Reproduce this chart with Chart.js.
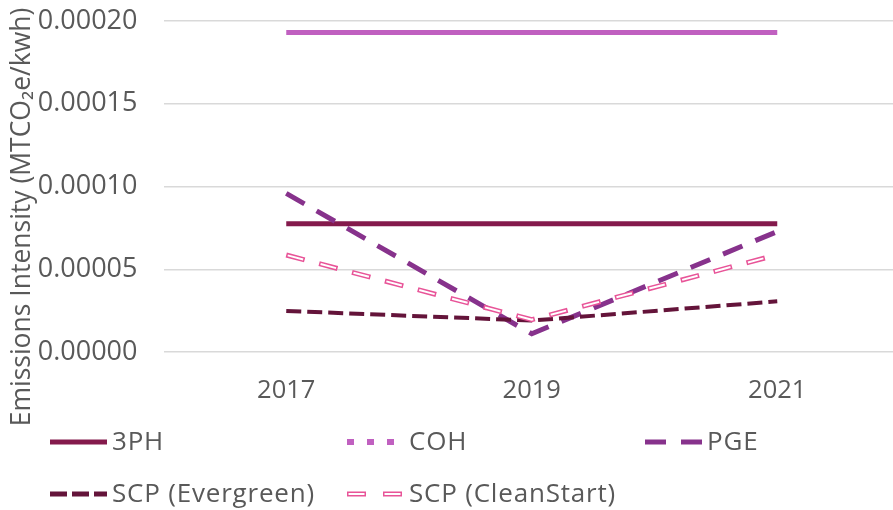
<!DOCTYPE html>
<html>
<head>
<meta charset="utf-8">
<script src="https://cdn.jsdelivr.net/npm/chart.js@4.4.1/dist/chart.umd.min.js"></script>
<style>
  html, body { margin: 0; padding: 0; background: #ffffff; overflow: hidden; }
  #wrap { position: relative; width: 900px; height: 510px; }
</style>
</head>
<body>
<div id="wrap"><canvas id="c"></canvas></div>
<script>
// ---- data ----
const years = ["2017", "2019", "2021"];
const seriesNames = ["3PH", "COH", "PGE", "SCP (Evergreen)", "SCP (CleanStart)"];
const threePH = [0.0000775, 0.0000775, 0.0000775];
const coh = [0.000193, 0.000193, 0.000193];
const pge = [0.0000958, 0.000011, 0.0000728];
const scpEvergreen = [0.0000248, 0.0000190, 0.0000306];
const scpCleanStart = [0.0000586, 0.0000195, 0.0000588];
const yTicks = [0, 0.00005, 0.0001, 0.00015, 0.0002];
const yTitle = "Emissions Intensity (MTCO\u2082e/kwh)";

// ---- styles ----
const C3PH = "rgb(132,26,76)";
const CCOH = "rgb(192,96,192)";
const CPGE = "rgb(135,50,140)";
const CEVG = "rgb(100,20,58)";
const CCLS = "rgb(232,84,152)";
const TXT = "#595959";
const FONT = "'Open Sans', 'Noto Sans', sans-serif";

const datasets = [
  { label: seriesNames[0], data: threePH, borderColor: C3PH, borderWidth: 5, order: 6 },
  { label: seriesNames[1], data: coh, borderColor: CCOH, borderWidth: 5, order: 5 },
  { label: seriesNames[2], data: pge, borderColor: CPGE, borderWidth: 5, borderDash: [21, 14], order: 4 },
  { label: seriesNames[3], data: scpEvergreen, borderColor: CEVG, borderWidth: 4, borderDash: [15, 6], order: 3 },
  { label: seriesNames[4], data: scpCleanStart, borderColor: CCLS, borderWidth: 5, borderDash: [19, 15], order: 2 },
  { label: seriesNames[4] + " inner", data: scpCleanStart, borderColor: "#ffffff", borderWidth: 2, borderDash: [16, 18], borderDashOffset: -1.5, order: 1 }
].map(d => Object.assign({ pointRadius: 0, pointHoverRadius: 0, tension: 0, fill: false, borderCapStyle: 'butt' }, d));

// legend definition (drawn by plugin)
const legendItems = [
  { name: seriesNames[0], col: 0, row: 0, color: C3PH, width: 5, dash: [] },
  { name: seriesNames[1], col: 1, row: 0, color: CCOH, width: 6, dash: [7, 13] },
  { name: seriesNames[2], col: 2, row: 0, color: CPGE, width: 5, dash: [21, 15] },
  { name: seriesNames[3], col: 0, row: 1, color: CEVG, width: 5, dash: [17, 5] },
  { name: seriesNames[4], col: 1, row: 1, color: CCLS, width: 5, dash: [19, 17], hollow: true }
];

const legendPlugin = {
  id: 'customLegend',
  afterDraw(chart) {
    const ctx = chart.ctx;
    const colX = [50, 347, 645];
    const rowY = [442, 494];
    const len = 57;
    ctx.save();
    legendItems.forEach(it => {
      const x0 = colX[it.col], y = rowY[it.row];
      ctx.beginPath();
      ctx.setLineDash(it.dash);
      ctx.lineDashOffset = 0;
      ctx.lineCap = 'butt';
      ctx.strokeStyle = it.color;
      ctx.lineWidth = it.width;
      ctx.moveTo(x0, y);
      ctx.lineTo(x0 + len, y);
      ctx.stroke();
      if (it.hollow) {
        ctx.beginPath();
        ctx.setLineDash([it.dash[0] - 3, it.dash[1] + 3]);
        ctx.lineDashOffset = -1.5;
        ctx.strokeStyle = '#ffffff';
        ctx.lineWidth = 2;
        ctx.moveTo(x0, y);
        ctx.lineTo(x0 + len, y);
        ctx.stroke();
      }
      ctx.setLineDash([]);
      ctx.fillStyle = TXT;
      ctx.font = "26px " + FONT;
      try { ctx.letterSpacing = "0.8px"; } catch (e) {}
      ctx.textAlign = 'left';
      ctx.textBaseline = 'middle';
      ctx.fillText(it.name, x0 + 62, y + 1);
      try { ctx.letterSpacing = "0px"; } catch (e) {}
    });
    // y-axis title
    ctx.translate(22, 217);
    ctx.rotate(-Math.PI / 2);
    ctx.font = "26.5px " + FONT;
    ctx.textAlign = 'center';
    ctx.textBaseline = 'middle';
    ctx.fillStyle = TXT;
    ctx.fillText(yTitle, 0, 0);
    ctx.restore();
  }
};

new Chart(document.getElementById('c'), {
  type: 'line',
  data: { labels: years, datasets: datasets },
  options: {
    responsive: true,
    maintainAspectRatio: false,
    animation: false,
    events: [],
    layout: { padding: { left: 0, right: 0, top: 21, bottom: 98 } },
    plugins: { legend: { display: false }, tooltip: { enabled: false }, title: { display: false } },
    scales: {
      x: {
        offset: true,
        grid: { display: false, drawTicks: false },
        border: { display: false },
        ticks: { color: TXT, font: { family: FONT, size: 25.5 }, padding: 23 },
        afterFit(scale) { scale.height = 60; scale.paddingLeft = 0; scale.paddingRight = 0; }
      },
      y: {
        min: 0, max: 0.0002,
        afterBuildTicks(scale) { scale.ticks = yTicks.map(v => ({ value: v })); },
        grid: { color: '#d9d9d9', lineWidth: 1.5, drawTicks: false },
        border: { display: false },
        ticks: { color: TXT, font: { family: FONT, size: 27 }, padding: 26, callback: v => Number(v).toFixed(5) },
        afterFit(scale) { scale.width = 163.5; scale.paddingTop = 0; scale.paddingBottom = 0; }
      }
    }
  },
  plugins: [legendPlugin]
});
</script>
</body>
</html>
